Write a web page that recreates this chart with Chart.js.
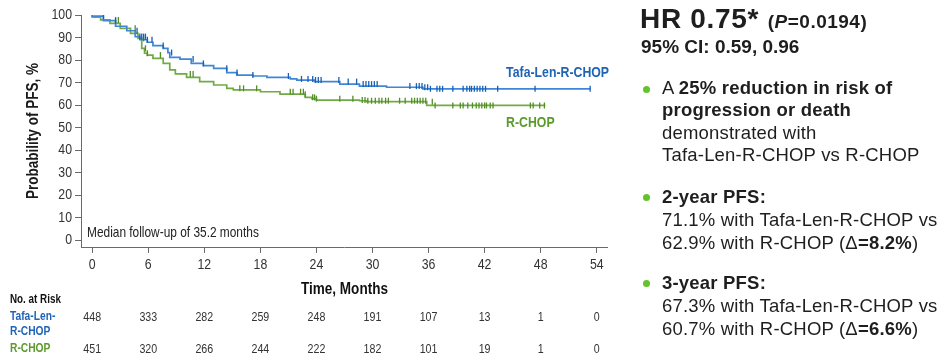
<!DOCTYPE html>
<html><head><meta charset="utf-8">
<script src="https://cdn.jsdelivr.net/npm/chart.js@4.4.1/dist/chart.umd.min.js"></script>
<style>
html,body{margin:0;padding:0;background:#fff;}
#wrap{position:relative;width:951px;height:359px;overflow:hidden;background:#fff;}
#c{position:absolute;left:0;top:0;}
.t{position:absolute;font-family:"Liberation Sans",Arial,sans-serif;color:#1e1e1e;white-space:nowrap;}
.b{letter-spacing:0.2px;}
.dot{position:absolute;width:7px;height:7px;border-radius:50%;background:#64c22a;}
</style>
</head><body>
<div id="wrap">
<canvas id="c" width="951" height="359"></canvas>
<div class="t" style="left:640px;top:5px;font-size:28px;line-height:27px;font-weight:bold;letter-spacing:0.7px">HR 0.75* <span style="font-size:19px;letter-spacing:0.5px">(<i>P</i>=0.0194)</span></div>
<div class="t" style="left:641px;top:37px;font-size:19px;line-height:19px;font-weight:bold">95% CI: 0.59, 0.96</div>
<div class="dot" style="left:643px;top:86px"></div>
<div class="t b" style="left:662px;top:76.7px;font-size:18.5px;line-height:22.4px">A <b>25% reduction in risk of<br>progression or death</b><br>demonstrated with<br>Tafa-Len-R-CHOP vs R-CHOP</div>
<div class="dot" style="left:643px;top:194px"></div>
<div class="t b" style="left:662px;top:184.5px;font-size:18.5px;line-height:23px"><b>2-year PFS:</b><br>71.1% with Tafa-Len-R-CHOP vs<br>62.9% with R-CHOP (&Delta;<b>=8.2%</b>)</div>
<div class="dot" style="left:643px;top:280px"></div>
<div class="t b" style="left:662px;top:270.5px;font-size:18.5px;line-height:23px"><b>3-year PFS:</b><br>67.3% with Tafa-Len-R-CHOP vs<br>60.7% with R-CHOP (&Delta;<b>=6.6%</b>)</div>
</div>
<script>
// ---- data ----
const xTicks = [0, 6, 12, 18, 24, 30, 36, 42, 48, 54];
const yTicks = [0, 10, 20, 30, 40, 50, 60, 70, 80, 90, 100];

const tafaTimes = [0, 1.2, 2.5, 3.7, 4.6, 5.1, 5.9, 6.5, 7.6, 8.1, 8.3, 9.4, 10.6, 11.9, 13.0, 14.4, 15.5, 17.2, 18.7, 21.2, 21.9, 23.8, 26.5, 28.6, 31.5, 35.4, 36.1, 53.3];
const tafaPFS   = [100, 99.5, 97.5, 95, 93, 90.4, 89, 87.9, 86.4, 85.2, 83.3, 81.2, 80.4, 78.5, 77.5, 76.3, 74.4, 73.3, 72.9, 72.3, 71.6, 71.1, 70.4, 69.3, 68.4, 67.9, 67.2, 67.2];

const rchopTimes = [0, 0.9, 1.9, 3.0, 4.1, 4.9, 5.3, 5.6, 5.9, 6.5, 7.6, 8.3, 8.9, 10.1, 11.5, 13.0, 14.4, 15.1, 18.0, 20.1, 22.8, 23.5, 24.0, 28.6, 29.4, 35.8, 36.5, 48.5];
const rchopPFS   = [100, 99, 97.8, 96.3, 94.1, 91.8, 89.6, 85.2, 83, 82.2, 80.7, 78.5, 75.6, 73.8, 72.3, 70.4, 68.9, 67.4, 66.7, 65.9, 64.8, 63.4, 62.8, 62.2, 61.9, 61.5, 59.8, 59.8];

const tafaCensor = [1.2, 2.5, 4.8, 5.1, 5.3, 5.5, 5.7, 5.9, 6.4, 7.6, 8.5, 10.8, 11.9, 14.4, 15.5, 17.2, 21.0, 22.4, 23.1, 23.6, 23.9, 24.2, 24.5, 26.4, 27.4, 28.3, 29.0, 29.3, 29.6, 29.9, 30.2, 30.5, 34.0, 34.7, 35.0, 35.3, 35.6, 35.9, 36.2, 36.9, 37.2, 37.5, 38.6, 39.7, 40.1, 40.4, 40.6, 40.9, 41.2, 41.5, 41.8, 42.1, 43.4, 47.4, 53.3];
const rchopCensor = [2.5, 2.8, 4.6, 5.5, 5.7, 5.9, 7.3, 10.5, 10.8, 15.8, 16.2, 17.6, 21.2, 21.5, 22.3, 22.6, 22.8, 23.6, 23.8, 24.0, 26.5, 27.9, 28.9, 29.2, 29.5, 29.9, 30.3, 30.7, 31.0, 31.4, 31.7, 32.9, 33.5, 34.2, 34.5, 34.8, 35.1, 35.4, 35.7, 36.4, 36.7, 38.6, 39.4, 39.7, 40.2, 40.7, 41.1, 41.4, 41.7, 42.0, 42.2, 42.6, 42.9, 46.9, 47.2, 47.9, 48.4];

const atRiskTafa  = [448, 333, 282, 259, 248, 191, 107, 13, 1, 0];
const atRiskRchop = [451, 320, 266, 244, 222, 182, 101, 19, 1, 0];

// ---- helpers ----
function stepAt(times, vals, t) {
  let v = vals[0];
  for (let i = 0; i < times.length; i++) { if (times[i] <= t) v = vals[i]; else break; }
  return v;
}
const pts = (ts, vs) => ts.map((t, i) => ({x: t, y: vs[i]}));
const cens = (cs, ts, vs) => cs.map(t => ({x: t, y: stepAt(ts, vs, t)}));

const FONT = '"Liberation Sans",Arial,sans-serif';
const SQ = 0.82; // horizontal condensing to mimic Arial Narrow
const BLUE_LINE = '#3f86d6', BLUE_MARK = '#1860b4', BLUE_TXT = '#1f64b4';
const GREEN_LINE = '#72aa45', GREEN_MARK = '#4f8f24', GREEN_TXT = '#5b9a2c';

function nText(ctx, txt, x, y, font, color, align, rot) {
  ctx.save();
  ctx.translate(x, y);
  if (rot) ctx.rotate(rot);
  ctx.scale(SQ, 1);
  ctx.font = font; ctx.fillStyle = color;
  ctx.textAlign = align || 'left'; ctx.textBaseline = 'middle';
  ctx.fillText(txt, 0, 0);
  ctx.restore();
}

const extras = {
  id: 'extras',
  afterDraw(chart) {
    const ctx = chart.ctx, xs = chart.scales.x, ys = chart.scales.y, ca = chart.chartArea;
    // tick labels
    xTicks.forEach(t => nText(ctx, String(t), xs.getPixelForValue(t), 265, '15px ' + FONT, '#333', 'center'));
    yTicks.forEach(v => nText(ctx, String(v), ca.left - 9, ys.getPixelForValue(v), '15px ' + FONT, '#333', 'right'));
    // titles
    nText(ctx, 'Probability of PFS, %', 33, 131, 'bold 16.5px ' + FONT, '#1a1a1a', 'center', -Math.PI / 2);
    nText(ctx, 'Time, Months', (xs.getPixelForValue(0) + xs.getPixelForValue(54)) / 2, 289, 'bold 16.5px ' + FONT, '#111', 'center');
    nText(ctx, 'Median follow-up of 35.2 months', ca.left + 6, 233, '14.5px ' + FONT, '#222', 'left');
    // curve labels
    nText(ctx, 'Tafa-Len-R-CHOP', xs.getPixelForValue(44.3), ys.getPixelForValue(74.5), 'bold 15px ' + FONT, BLUE_TXT, 'left');
    nText(ctx, 'R-CHOP', xs.getPixelForValue(44.3), ys.getPixelForValue(52), 'bold 15px ' + FONT, GREEN_TXT, 'left');
    // at-risk table
    nText(ctx, 'No. at Risk', 10, 300, 'bold 12px ' + FONT, '#111', 'left');
    nText(ctx, 'Tafa-Len-', 10, 317, 'bold 12.5px ' + FONT, BLUE_TXT, 'left');
    nText(ctx, 'R-CHOP', 10, 332, 'bold 12.5px ' + FONT, BLUE_TXT, 'left');
    nText(ctx, 'R-CHOP', 10, 349, 'bold 12.5px ' + FONT, GREEN_TXT, 'left');
    xTicks.forEach((t, i) => {
      const px = xs.getPixelForValue(t);
      nText(ctx, String(atRiskTafa[i]), px, 317, '13px ' + FONT, '#333', 'center');
      nText(ctx, String(atRiskRchop[i]), px, 349, '13px ' + FONT, '#333', 'center');
    });
  }
};

const axisGrid = {drawOnChartArea: false, drawTicks: true, tickLength: 6, color: '#6a6a6a', lineWidth: 1};

new Chart(document.getElementById('c'), {
  type: 'line',
  data: {
    datasets: [
      {data: cens(tafaCensor, tafaTimes, tafaPFS), showLine: false, pointStyle: 'line', rotation: 90, pointRadius: 3, pointBorderWidth: 1.3, borderColor: BLUE_MARK, backgroundColor: BLUE_MARK},
      {data: cens(rchopCensor, rchopTimes, rchopPFS), showLine: false, pointStyle: 'line', rotation: 90, pointRadius: 3, pointBorderWidth: 1.3, borderColor: GREEN_MARK, backgroundColor: GREEN_MARK},
      {data: pts(tafaTimes, tafaPFS), stepped: 'after', borderColor: BLUE_LINE, borderWidth: 1.7, pointRadius: 0, fill: false},
      {data: pts(rchopTimes, rchopPFS), stepped: 'after', borderColor: GREEN_LINE, borderWidth: 1.7, pointRadius: 0, fill: false}
    ]
  },
  options: {
    responsive: false, animation: false, devicePixelRatio: 1,
    layout: {padding: {left: 0, top: 15, right: 344, bottom: 0}},
    plugins: {legend: {display: false}, tooltip: {enabled: false}},
    scales: {
      x: {
        type: 'linear', min: -1.2, max: 55.1,
        afterFit(s) { s.height = 112; },
        afterBuildTicks(s) { s.ticks = xTicks.map(v => ({value: v})); },
        ticks: {display: false},
        grid: axisGrid, border: {color: '#6a6a6a', width: 1}
      },
      y: {
        type: 'linear', min: -3.1, max: 100,
        afterFit(s) { s.width = 81; },
        afterBuildTicks(s) { s.ticks = yTicks.map(v => ({value: v})); },
        ticks: {display: false},
        grid: axisGrid, border: {color: '#6a6a6a', width: 1}
      }
    }
  },
  plugins: [extras]
});
</script>
</body></html>
